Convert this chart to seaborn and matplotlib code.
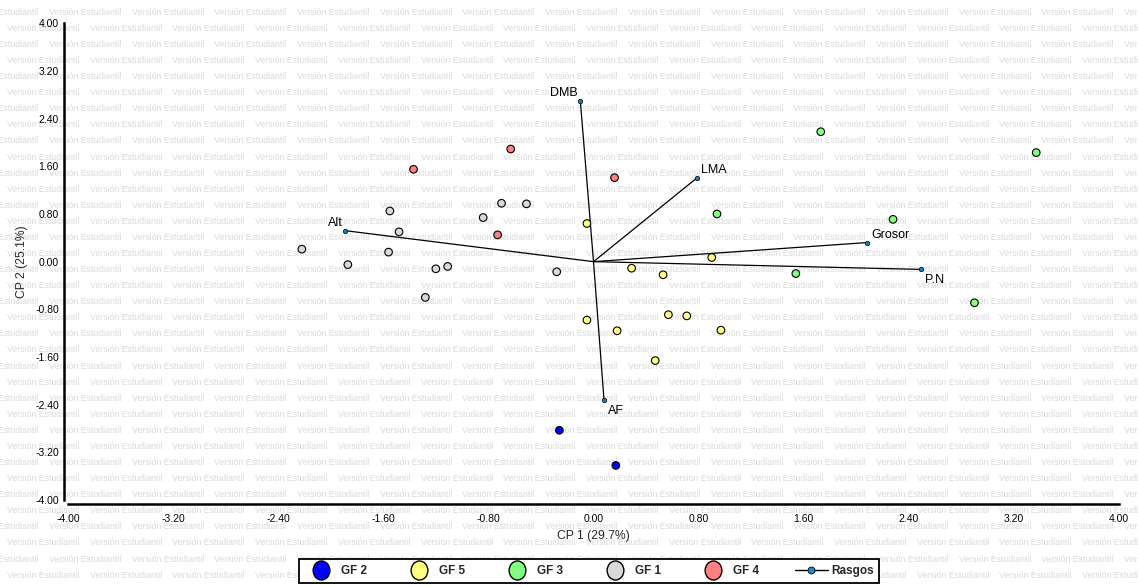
import numpy as np
import pandas as pd
import matplotlib; matplotlib.use("Agg")
import matplotlib.pyplot as plt
from matplotlib.lines import Line2D
from matplotlib.path import Path
from matplotlib.transforms import Affine2D
from matplotlib import font_manager
import seaborn as sns

sns.set_style("white")
plt.rcParams["font.family"] = ["Liberation Sans", "DejaVu Sans"]

# ── datos (biplot CP1 vs CP2) ─────────────────────────────────────────
gf1_x = [-2.22, -1.87, -1.55, -1.48, -1.56, -1.20, -1.11, -1.28, -0.84, -0.70, -0.51, -0.28]
gf1_y = [0.21, -0.05, 0.85, 0.50, 0.16, -0.12, -0.08, -0.60, 0.74, 0.98, 0.97, -0.17]
gf2_x = [-0.26, 0.17]
gf2_y = [-2.83, -3.42]
gf3_x = [0.94, 2.28, 1.54, 2.90, 1.73, 3.37]
gf3_y = [0.80, 0.71, -0.20, -0.69, 2.18, 1.83]
gf4_x = [-1.37, -0.63, 0.16, -0.73]
gf4_y = [1.55, 1.89, 1.41, 0.45]
gf5_x = [-0.05, 0.29, 0.53, 0.90, -0.05, 0.18, 0.57, 0.71, 0.97, 0.47]
gf5_y = [0.64, -0.11, -0.22, 0.07, -0.98, -1.16, -0.89, -0.91, -1.15, -1.66]

rasgos = ["Alt", "AF", "Grosor", "P.N", "LMA", "DMB"]
rasgos_x = [-1.89, 0.08, 2.08, 2.49, 0.79, -0.10]
rasgos_y = [0.52, -2.32, 0.32, -0.13, 1.41, 2.69]

grupos = ["GF 2", "GF 5", "GF 3", "GF 1", "GF 4"]
colores = {"GF 2": "#0000FF", "GF 5": "#FFFF80", "GF 3": "#80FF80",
           "GF 1": "#D9D9D9", "GF 4": "#FF8080"}
ticks = [-4.0, -3.2, -2.4, -1.6, -0.8, 0.0, 0.8, 1.6, 2.4, 3.2, 4.0]

df = pd.concat([
    pd.DataFrame({"cp1": gf2_x, "cp2": gf2_y, "grupo": "GF 2"}),
    pd.DataFrame({"cp1": gf5_x, "cp2": gf5_y, "grupo": "GF 5"}),
    pd.DataFrame({"cp1": gf3_x, "cp2": gf3_y, "grupo": "GF 3"}),
    pd.DataFrame({"cp1": gf1_x, "cp2": gf1_y, "grupo": "GF 1"}),
    pd.DataFrame({"cp1": gf4_x, "cp2": gf4_y, "grupo": "GF 4"}),
], ignore_index=True)

W, H = 1138, 586
fig = plt.figure(figsize=(W / 100, H / 100), dpi=100, facecolor="white")

# ── marca de agua "Versión Estudiantil" ───────────────────────────────
nombres = {f.name for f in font_manager.fontManager.ttflist}
if "Liberation Sans Narrow" in nombres:
    wm_fam, wm_size = ["Liberation Sans Narrow", "DejaVu Sans"], 7.6
else:
    wm_fam, wm_size = ["Liberation Sans", "DejaVu Sans"], 6.3
for r in range(38):
    ypx = 12.3 + r * 16.08
    x0 = (49 if r % 2 == 0 else 7) - 2 * 82.7
    for k in range(18):
        xpx = x0 + k * 82.7
        if xpx > W:
            break
        fig.text(xpx / W, 1 - ypx / H, "Versión Estudiantil", family=wm_fam,
                 size=wm_size, color="#dadada", ha="left", va="center", zorder=-10)

ax = fig.add_axes([68 / W, 1 - 500 / H, 1051 / W, 476.7 / H])
ax.set_facecolor("none")

# vectores de rasgos
for nom, x, y in zip(rasgos, rasgos_x, rasgos_y):
    ax.plot([0, x], [0, y], color="black", lw=0.9, zorder=2)
    ax.plot(x, y, "o", ms=3.2, mfc="#1f7fb8", mec="black", mew=0.5, zorder=4)

etiquetas = {
    "Alt":    dict(xytext=(-2, 3.6), ha="right", va="baseline"),
    "DMB":    dict(xytext=(-2, 3.6), ha="right", va="baseline"),
    "LMA":    dict(xytext=(3, 3.6), ha="left", va="baseline"),
    "Grosor": dict(xytext=(3, 3.6), ha="left", va="baseline"),
    "P.N":    dict(xytext=(3, -3.3), ha="left", va="top"),
    "AF":     dict(xytext=(3, -4.0), ha="left", va="top"),
}
for nom, x, y in zip(rasgos, rasgos_x, rasgos_y):
    ax.annotate(nom, (x, y), textcoords="offset points", fontsize=9,
                color="black", zorder=5, **etiquetas[nom])

sns.scatterplot(data=df, x="cp1", y="cp2", hue="grupo", hue_order=grupos,
                palette=colores, s=30, edgecolor="black", linewidth=0.8,
                legend=False, ax=ax, zorder=3)

ax.set_xlim(-4, 4)
ax.set_ylim(-4, 4)
ax.set_xticks(ticks)
ax.set_yticks(ticks)
ax.set_xticklabels([f"{t:.2f}" for t in ticks])
ax.set_yticklabels([f"{t:.2f}" for t in ticks])
ax.tick_params(axis="both", direction="in", length=4, width=1.2, labelsize=7.5,
               colors="black")
ax.tick_params(axis="x", pad=7.3)
ax.tick_params(axis="y", pad=3.6)
for s in ["top", "right"]:
    ax.spines[s].set_visible(False)
for s in ["left", "bottom"]:
    ax.spines[s].set_position(("outward", 3))
    ax.spines[s].set_linewidth(1.8)
    ax.spines[s].set_color("black")

ax.set_xlabel("CP 1 (29.7%)", fontsize=8.7)
ax.set_ylabel("CP 2 (25.1%)", fontsize=8.7)
ax.xaxis.set_label_coords(0.5, -0.062)
ax.yaxis.set_label_coords(-0.038, 0.5)

# ── leyenda ───────────────────────────────────────────────────────────
elipse = Path.unit_circle().transformed(Affine2D().scale(0.88, 1.0))
handles = [Line2D([], [], ls="none", marker=elipse, ms=13.7, mfc=colores[g],
                  mec="black", mew=1.0, label=g) for g in grupos]
handles.append(Line2D([], [], color="black", lw=1.0, marker="o", ms=5,
                      mfc="#1f8ccc", mec="black", mew=0.6, label="Rasgos"))
leg = fig.legend(handles=handles, loc="center", bbox_to_anchor=(589 / W, 1 - 571 / H),
                 ncol=6, frameon=True, fancybox=False, edgecolor="black",
                 framealpha=1, prop=dict(weight="bold", size=8.5),
                 handlelength=2.8, handletextpad=0.25, columnspacing=3.05,
                 borderpad=0.5, borderaxespad=0, numpoints=1)
leg.get_frame().set_linewidth(1.3)

fig.savefig("out.png", dpi=100, facecolor="white")
